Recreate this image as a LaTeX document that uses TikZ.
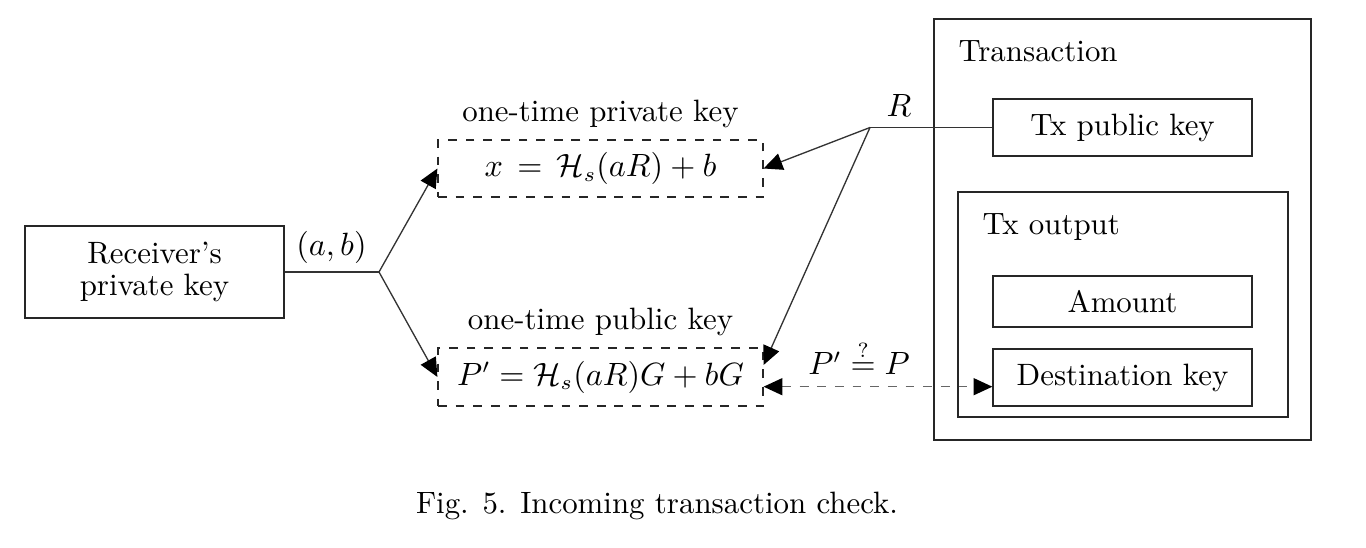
\documentclass[tikz,border=0pt]{standalone}
\usetikzlibrary{arrows.meta,calc}
\begin{document}
\begin{tikzpicture}[x=0.34pt,y=-0.34pt,
  every node/.style={font=\fontsize{10.5}{12.6}\selectfont},
  box/.style={draw=black!85, line width=0.45pt, inner sep=0pt, anchor=center},
  dbox/.style={box, dashed, line width=0.4pt},
  conn/.style={draw=black!80, line width=0.45pt},
  tip/.tip={Triangle[length=6.4pt,width=5.8pt,fill=black,color=black]},
  arr/.style={conn, -tip},
  darr/.style={draw=black!60, line width=0.5pt, dashed, tip-tip},
  lbl/.style={inner sep=0pt}]
\useasboundingbox (0,0) rectangle (1366,548);
\node[box, minimum width=88.06pt, minimum height=31.28pt, align=center, font=\fontsize{10.5}{10.8}\selectfont] (recv) at (154.5,272) {Receiver's\\private key};
\node[dbox, minimum width=110.5pt, minimum height=19.38pt] (priv) at (600.5,168.5) {$x\,=\,\mathcal{H}_s(aR)+b$};
\node[dbox, minimum width=110.5pt, minimum height=19.72pt] (pub) at (600.5,377) {$P' = \mathcal{H}_s(aR)G+bG$};
\node[lbl, anchor=base] (privl) at (600.5,122) {one-time private key};
\node[lbl, anchor=base] (publ) at (600.5,330) {one-time public key};
\node[box, minimum width=128.18pt, minimum height=143.14pt] (tx) at (1122.5,229.5) {};
\node[lbl, anchor=base west] (txl) at (958,61.7) {Transaction};
\node[box, minimum width=88.06pt, minimum height=19.38pt] (txpk) at (1122.5,127.5) {Tx public key};
\node[box, minimum width=112.2pt, minimum height=76.5pt] (txout) at (1123,304.5) {};
\node[lbl, anchor=base west] (txoutl) at (982,235) {Tx output};
\node[box, minimum width=88.06pt, minimum height=17.34pt] (amt) at (1122.5,301.5) {Amount};
\node[box, minimum width=88.06pt, minimum height=19.38pt] (dest) at (1122.5,377.5) {Destination key};
\coordinate (j1) at (379,272);
\coordinate (j2) at (870,127.5);
\node[lbl] (ab) at (331.5,247.5) {$(a,b)$};
\node[lbl, anchor=base] (rl) at (899,116.7) {$R$};
\node[lbl, anchor=base] (eq) at (859,375) {$P' \stackrel{?}{=} P$};
\node[lbl, anchor=base] (cap) at (657,513.3) {Fig. 5. Incoming transaction check.};
\draw[conn] (recv.east) -- (j1);
\draw[arr] (j1) -- (priv.west);
\draw[arr] (j1) -- (pub.west);
\draw[conn] (txpk.west) -- (j2);
\draw[arr] (j2) -- (priv.east);
\draw[arr] (j2) -- ($(pub.east)+(0,-12)$);
\draw[darr] ($(pub.east)+(0,9.7)$) -- ($(dest.west)+(0,9.2)$);
\end{tikzpicture}
\end{document}
